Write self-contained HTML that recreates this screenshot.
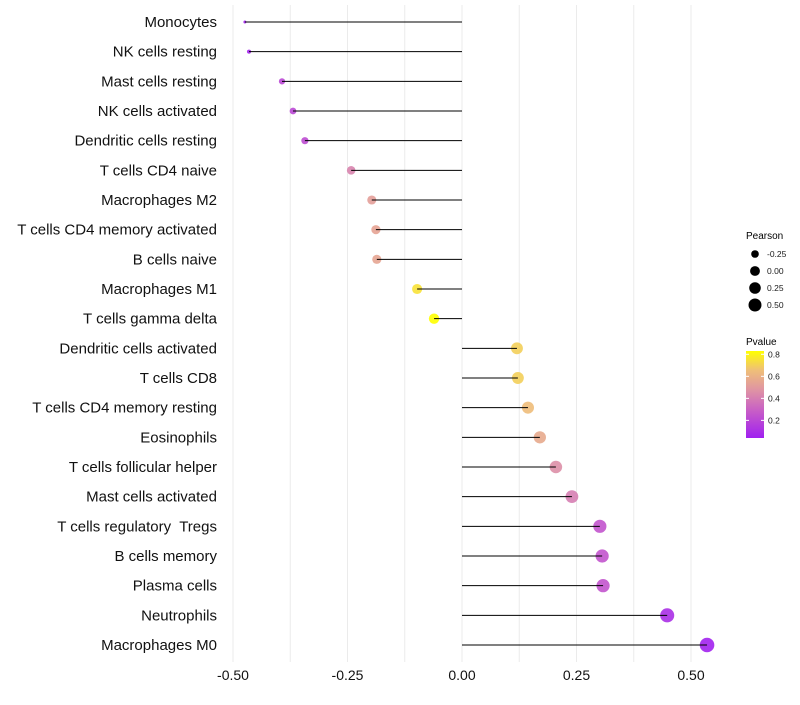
<!DOCTYPE html>
<html><head><meta charset="utf-8"><style>
body{margin:0;background:#fff;}
svg text{font-family:"Liberation Sans",Arial,sans-serif;white-space:pre;}
</style></head><body>
<svg id="chart" width="800" height="700" xmlns="http://www.w3.org/2000/svg">
<defs>
<linearGradient id="pg" x1="0" y1="1" x2="0" y2="0">
<stop offset="0" stop-color="#a020f0"/>
<stop offset="0.3" stop-color="#c65bc8"/>
<stop offset="0.55" stop-color="#df93a4"/>
<stop offset="0.78" stop-color="#efbf78"/>
<stop offset="1" stop-color="#ffff00"/>
</linearGradient>
</defs>
<g id="grid"></g>
<g id="marks"></g>
<g id="labels"></g>
<g id="xt"></g>
<g>
<text x="746" y="239" font-size="10">Pearson</text>
<g id="sizeLeg"></g>
</g>
<g>
<text x="746" y="345" font-size="10">Pvalue</text>
<rect x="746" y="351" width="18" height="87" fill="url(#pg)"/>
<g id="colLeg"></g>
</g>
</svg>
<script>
const categories=["Monocytes","NK cells resting","Mast cells resting","NK cells activated","Dendritic cells resting","T cells CD4 naive","Macrophages M2","T cells CD4 memory activated","B cells naive","Macrophages M1","T cells gamma delta","Dendritic cells activated","T cells CD8","T cells CD4 memory resting","Eosinophils","T cells follicular helper","Mast cells activated","T cells regulatory  Tregs","B cells memory","Plasma cells","Neutrophils","Macrophages M0"];
const pearson=[-0.474,-0.465,-0.393,-0.369,-0.343,-0.242,-0.197,-0.188,-0.186,-0.098,-0.061,0.120,0.122,0.144,0.170,0.205,0.240,0.301,0.306,0.308,0.448,0.535];
const pvalue=[0.05,0.06,0.2,0.2,0.22,0.42,0.52,0.54,0.55,0.75,0.83,0.7,0.7,0.65,0.57,0.46,0.4,0.25,0.25,0.25,0.1,0.05];
const xTicks=[-0.5,-0.25,0,0.25,0.5];
const xTickLabels=["-0.50","-0.25","0.00","0.25","0.50"];
const sizeLegendVals=[-0.25,0,0.25,0.5];
const sizeLegendLabels=["-0.25","0.00","0.25","0.50"];
const colLegendVals=[0.8,0.6,0.4,0.2];
const colLegendLabels=["0.8","0.6","0.4","0.2"];

const NS="http://www.w3.org/2000/svg";
const xs=v=>462+v*458;
const ys=i=>22+i*(623/21);
const pMin=Math.min(...pearson),pMax=Math.max(...pearson);
const rs=v=>1.5+5.8*Math.sqrt(Math.max(0,(v-pMin)/(pMax-pMin)));
const stops=[[0,[160,32,240]],[0.3,[198,91,200]],[0.55,[223,147,164]],[0.78,[239,191,120]],[1,[255,255,0]]];
function col(p){let t=(p-0.04)/(0.83-0.04);t=Math.max(0,Math.min(1,t));
for(let k=1;k<stops.length;k++){if(t<=stops[k][0]){const a=stops[k-1],b=stops[k];const f=(t-a[0])/(b[0]-a[0]);
return "rgb("+a[1].map((c,j)=>Math.round(c+(b[1][j]-c)*f)).join(",")+")";}}return "rgb(255,255,0)";}
function mk(tag,attrs,parent){const e=document.createElementNS(NS,tag);for(const k in attrs)e.setAttribute(k,attrs[k]);parent.appendChild(e);return e;}
const grid=document.getElementById('grid'),marks=document.getElementById('marks'),labels=document.getElementById('labels'),xt=document.getElementById('xt');
for(let v=-0.5;v<=0.5001;v+=0.125){const l=mk('line',{x1:xs(v),x2:xs(v),y1:5,y2:662,stroke:'#ebebeb','stroke-width':1},grid);

}
categories.forEach((c,i)=>{
const y=ys(i);
const pt=mk('circle',{cx:xs(pearson[i]),cy:y,r:rs(pearson[i]),fill:col(pvalue[i]),'fill-opacity':0.9},marks);


const st=mk('line',{x1:xs(0),x2:xs(pearson[i]),y1:y,y2:y,stroke:'#000','stroke-width':1},marks);


const t=mk('text',{x:217,y:y+5,'text-anchor':'end','font-size':15,fill:'#111'},labels);
t.textContent=c;


});
xTicks.forEach((v,i)=>{const t=mk('text',{x:xs(v),y:680,'text-anchor':'middle','font-size':14,fill:'#111'},xt);
t.textContent=xTickLabels[i];

});
const sl=document.getElementById('sizeLeg');
sizeLegendVals.forEach((v,i)=>{const y=254+i*17;
const c=mk('circle',{cx:755,cy:y,r:rs(v)*0.9,fill:'#000'},sl);


const t=mk('text',{x:767,y:y+3,'font-size':8.5,fill:'#1a1a1a'},sl);t.textContent=sizeLegendLabels[i];

});
const cl=document.getElementById('colLeg');
colLegendVals.forEach((v,i)=>{const y=438-(v-0.04)*(87/0.79);
const t=mk('text',{x:768,y:y+3,'font-size':8.5,fill:'#1a1a1a'},cl);t.textContent=colLegendLabels[i];


mk('line',{x1:746,x2:749,y1:y,y2:y,stroke:'#fff'},cl);mk('line',{x1:761,x2:764,y1:y,y2:y,stroke:'#fff'},cl);});
</script>
</body></html>
